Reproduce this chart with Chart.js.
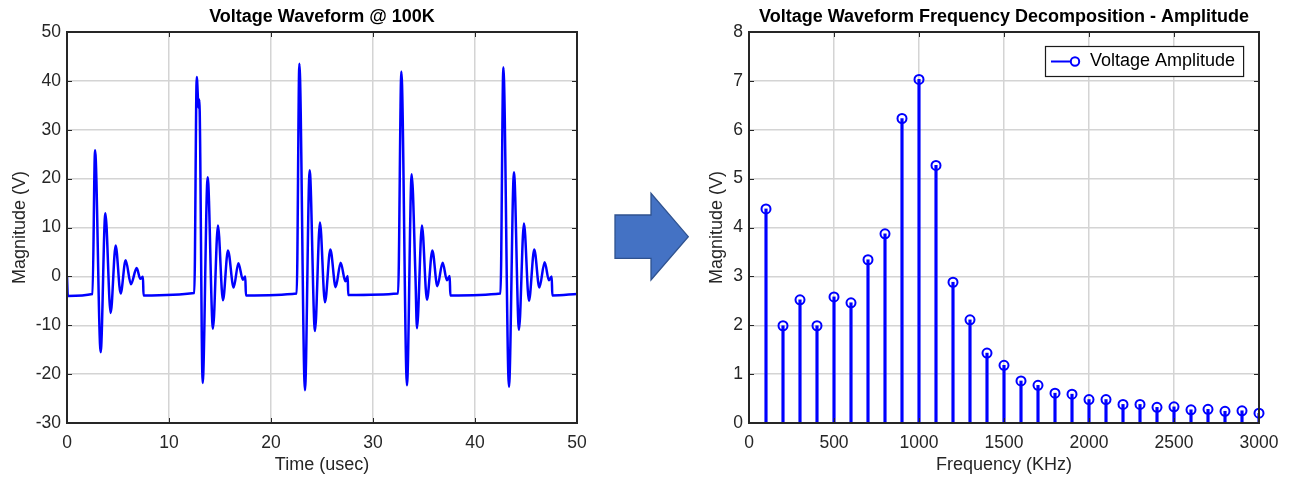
<!DOCTYPE html>
<html>
<head>
<meta charset="utf-8">
<title>Voltage waveform and its frequency decomposition</title>
<script src="https://cdn.jsdelivr.net/npm/chart.js@4.4.1/dist/chart.umd.min.js"></script>
<style>
  html, body { margin: 0; padding: 0; background: #ffffff; overflow: hidden; }
  #wrap { position: relative; width: 1292px; height: 477px; overflow: hidden; }
  canvas { position: absolute; top: 0; }
  #wave { left: 0; }
  #spectrum { left: 682px; }
  #arrow { position: absolute; left: 600px; top: 180px; }
</style>
</head>
<body>
<div id="wrap">
  <canvas id="wave" width="644" height="477" style="width:644px;height:477px"></canvas>
  <svg id="arrow" width="100" height="110" viewBox="0 0 100 110">
    <polygon points="15,35 51,35 51,13.3 88.3,56.7 51,100 51,78.3 15,78.3"
             fill="#4472C4" stroke="#2F528F" stroke-width="1.3"/>
  </svg>
  <canvas id="spectrum" width="644" height="477" style="width:644px;height:477px"></canvas>
</div>
<script>
// ---- Time-domain waveform (usec, V) ----
const timeUsec = [
  0, 0.08, 2.50,
  2.75, 3.30, 3.76, 4.28, 4.77, 5.26, 5.75, 6.27, 6.83, 7.19, 7.45, 7.50,
  12.48, 12.72, 12.90, 12.97, 13.30, 13.79, 14.31, 14.80, 15.29, 15.78, 16.34, 16.80, 17.25, 17.48, 17.54,
  22.52, 22.78, 23.33, 23.79, 24.31, 24.80, 25.29, 25.82, 26.34, 26.83, 27.29, 27.52, 27.57,
  32.46, 32.78, 33.33, 33.79, 34.16, 34.31, 34.80, 35.29, 35.82, 36.31, 36.83, 37.25, 37.52, 37.58,
  42.50, 42.78, 43.33, 43.82, 44.31, 44.80, 45.29, 45.81, 46.31, 46.83, 47.25, 47.52, 47.58,
  50
];
const voltageV = [
  0, -4.0, -3.6,
  25.8, -15.5, 12.9, -7.5, 6.3, -3.5, 3.3, -1.6, 1.7, -0.5, -0.1, -3.9,
  -3.4, 40.8, 34.5, 36.2, -21.8, 20.3, -10.7, 10.4, -4.9, 5.3, -2.3, 2.7, -0.7, 0.0, -3.9,
  -3.5, 43.5, -23.3, 21.7, -11.2, 11.0, -5.3, 5.5, -2.2, 2.8, -1.0, 0.1, -3.8,
  -3.5, 41.9, -22.3, 20.9, 0.2, -10.6, 10.4, -4.8, 5.3, -2.0, 2.8, -0.8, 0.1, -3.9,
  -3.5, 42.8, -22.6, 21.3, -10.9, 10.8, -5.0, 5.5, -2.3, 2.9, -0.8, 0.0, -3.9,
  -3.6
];

// ---- Frequency decomposition (KHz, V) ----
const freqKHz = [100, 200, 300, 400, 500, 600, 700, 800, 900, 1000,
                 1100, 1200, 1300, 1400, 1500, 1600, 1700, 1800, 1900, 2000,
                 2100, 2200, 2300, 2400, 2500, 2600, 2700, 2800, 2900, 3000];
const amplitudeV = [4.38, 1.99, 2.52, 1.99, 2.58, 2.46, 3.34, 3.87, 6.23, 7.03,
                    5.27, 2.88, 2.11, 1.43, 1.18, 0.86, 0.77, 0.61, 0.59, 0.48,
                    0.48, 0.38, 0.38, 0.32, 0.33, 0.27, 0.28, 0.24, 0.25, 0.20];

// ---- Tick values ----
const waveXTicks = [0, 10, 20, 30, 40, 50];
const waveYTicks = [-30, -20, -10, 0, 10, 20, 30, 40, 50];
const specXTicks = [0, 500, 1000, 1500, 2000, 2500, 3000];
const specYTicks = [0, 1, 2, 3, 4, 5, 6, 7, 8];

const FONT = '"Liberation Sans", Arial, Helvetica, sans-serif';
const INK = '#262626';
const GRID = '#d4d4d4';
const BLUE = '#0000ff';

// Boxed axes with inward tick marks on all four sides
const boxedAxes = {
  id: 'boxedAxes',
  afterDatasetsDraw(chart) {
    const { ctx, chartArea: a, scales } = chart;
    const len = 5;
    ctx.save();
    ctx.strokeStyle = INK;
    ctx.lineWidth = 1;
    ctx.beginPath();
    scales.x.ticks.forEach(t => {
      const px = Math.round(scales.x.getPixelForValue(t.value)) + 0.5;
      ctx.moveTo(px, a.bottom); ctx.lineTo(px, a.bottom - len);
      ctx.moveTo(px, a.top); ctx.lineTo(px, a.top + len);
    });
    scales.y.ticks.forEach(t => {
      const py = Math.round(scales.y.getPixelForValue(t.value)) + 0.5;
      ctx.moveTo(a.left, py); ctx.lineTo(a.left + len, py);
      ctx.moveTo(a.right, py); ctx.lineTo(a.right - len, py);
    });
    ctx.stroke();
    ctx.lineWidth = 2;
    ctx.strokeRect(a.left, a.top, a.right - a.left, a.bottom - a.top);
    ctx.restore();
  }
};

// Boxed legend in the upper right corner with a line + open-circle sample
const stemLegend = {
  id: 'stemLegend',
  afterDraw(chart, args, opts) {
    const ds = chart.data.datasets[opts.datasetIndex];
    const { ctx, chartArea: a } = chart;
    ctx.save();
    ctx.font = `18px ${FONT}`;
    const tw = ctx.measureText(ds.label).width;
    const w = 45 + tw + 8, h = 30;
    const x = Math.round(a.right - 16 - w), y = Math.round(a.top + 14);
    ctx.fillStyle = '#ffffff';
    ctx.fillRect(x, y, w, h);
    ctx.strokeStyle = '#1a1a1a';
    ctx.lineWidth = 1.2;
    ctx.strokeRect(x + 0.5, y + 0.5, w, h);
    const cy = y + h / 2 + 0.5;
    ctx.strokeStyle = ds.pointBorderColor;
    ctx.lineWidth = 2;
    ctx.beginPath();
    ctx.moveTo(x + 6, cy); ctx.lineTo(x + 26, cy);
    ctx.stroke();
    ctx.lineWidth = 2;
    ctx.beginPath();
    ctx.arc(x + 30, cy, 4.2, 0, Math.PI * 2);
    ctx.stroke();
    ctx.fillStyle = '#000000';
    ctx.textBaseline = 'middle';
    ctx.textAlign = 'left';
    ctx.fillText(ds.label, x + 45, cy);
    ctx.restore();
  }
};

function axisFont(size) { return { family: FONT, size: size }; }

function baseScales(xMin, xMax, xTicks, xTitle, yMin, yMax, yTicks, yTitle, yTitlePad) {
  return {
    x: {
      type: 'linear', min: xMin, max: xMax, offset: false,
      afterBuildTicks: s => { s.ticks = xTicks.map(v => ({ value: v })); },
      afterFit: s => { s.height = 54; },
      grid: { color: GRID, lineWidth: 1.5, drawTicks: false, offset: false },
      border: { display: false },
      ticks: { color: INK, font: axisFont(17.5), padding: 10, autoSkip: false, maxRotation: 0,
               callback: v => String(v) },
      title: { display: true, text: xTitle, color: INK, font: axisFont(18), padding: { top: 0, bottom: 1 } }
    },
    y: {
      type: 'linear', min: yMin, max: yMax, position: 'left',
      afterBuildTicks: s => { s.ticks = yTicks.map(v => ({ value: v })); },
      afterFit: s => { s.width = 67; },
      grid: { color: GRID, lineWidth: 1.5, drawTicks: false },
      border: { display: false },
      ticks: { color: INK, font: axisFont(17.5), padding: 6, callback: v => String(v) },
      title: { display: true, text: yTitle, color: INK, font: axisFont(18), padding: { top: yTitlePad, bottom: 0 } }
    },
    // empty right-hand margin so the title centres over the plot box
    yMargin: {
      type: 'linear', position: 'right', display: true,
      afterFit: s => { s.width = 67; },
      grid: { display: false }, border: { display: false }, ticks: { display: false }
    }
  };
}

function titleOpts(text) {
  return {
    display: true, text: text, color: '#000000',
    font: { family: FONT, size: 18, weight: 'bold' },
    padding: { top: 6, bottom: 4.4 }
  };
}

Chart.defaults.font.family = FONT;

new Chart(document.getElementById('wave'), {
  type: 'line',
  data: {
    datasets: [{
      label: 'Voltage',
      data: timeUsec.map((t, i) => ({ x: t, y: voltageV[i] })),
      borderColor: BLUE,
      borderWidth: 2.5,
      pointRadius: 0,
      fill: false,
      cubicInterpolationMode: 'monotone'
    }]
  },
  options: {
    responsive: false,
    animation: false,
    devicePixelRatio: 1,
    layout: { padding: 0 },
    plugins: {
      legend: { display: false },
      tooltip: { enabled: false },
      title: titleOpts('Voltage Waveform @ 100K')
    },
    scales: baseScales(0, 50, waveXTicks, 'Time (usec)', -30, 50, waveYTicks, 'Magnitude (V)', 8.8)
  },
  plugins: [boxedAxes]
});

const stemPoints = freqKHz.map((f, i) => ({ x: f, y: amplitudeV[i] }));

new Chart(document.getElementById('spectrum'), {
  type: 'bar',
  data: {
    datasets: [
      {
        type: 'bar',
        label: 'Voltage Amplitude',
        data: stemPoints,
        backgroundColor: BLUE,
        borderWidth: 0,
        barThickness: 2.5
      },
      {
        type: 'line',
        label: 'Voltage Amplitude',
        data: stemPoints,
        showLine: false,
        pointRadius: 4.5,
        pointBorderWidth: 2,
        pointBorderColor: BLUE,
        pointBackgroundColor: 'rgba(0,0,0,0)',
        clip: false
      }
    ]
  },
  options: {
    responsive: false,
    animation: false,
    devicePixelRatio: 1,
    layout: { padding: 0 },
    plugins: {
      legend: { display: false },
      tooltip: { enabled: false },
      title: titleOpts('Voltage Waveform Frequency Decomposition - Amplitude'),
      stemLegend: { datasetIndex: 1 }
    },
    scales: baseScales(0, 3000, specXTicks, 'Frequency (KHz)', 0, 8, specYTicks, 'Magnitude (V)', 24.2)
  },
  plugins: [boxedAxes, stemLegend]
});
</script>
</body>
</html>
